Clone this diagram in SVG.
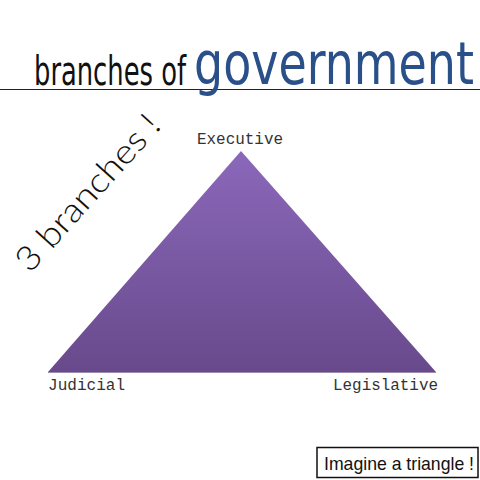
<svg xmlns="http://www.w3.org/2000/svg" width="480" height="480" viewBox="0 0 480 480">
<defs>
<linearGradient id="tri" x1="0" y1="0" x2="0" y2="1">
<stop offset="0" stop-color="#8b68ba"/>
<stop offset="1" stop-color="#684a8c"/>
</linearGradient>
<style>
.mono{font-family:"Liberation Mono","Courier New",monospace;font-size:16px;fill:#333}
</style>
</defs>
<rect width="480" height="480" fill="#fff"/>
<g id="title">
<line x1="0" y1="89.5" x2="480" y2="89.5" stroke="#222" stroke-width="1.2"/>
<text x="34" y="85" font-family="DejaVu Sans Condensed,DejaVu Sans,sans-serif" font-size="40" fill="#111" textLength="152" lengthAdjust="spacingAndGlyphs">branches of</text>
<text x="194" y="84" font-family="DejaVu Sans,Verdana,sans-serif" font-size="58" fill="#2a5089" textLength="280" lengthAdjust="spacingAndGlyphs">government</text>
</g>
<text x="0" y="0" transform="translate(30,274) rotate(-48)" font-family="Lato,Noto Sans,sans-serif" font-weight="300" font-size="34" fill="#111" textLength="198" lengthAdjust="spacingAndGlyphs">3 branches !</text>
<g id="triangle">
<polygon points="241,151 48,372 436,372" fill="url(#tri)"/>
<line x1="48" y1="372.5" x2="436" y2="372.5" stroke="#5a3f7a" stroke-width="1" opacity="0.6"/>
</g>
<g id="executive"><text class="mono" x="197" y="144" textLength="86" lengthAdjust="spacingAndGlyphs">Executive</text></g>
<g id="judicial"><text class="mono" x="48" y="390" textLength="77" lengthAdjust="spacingAndGlyphs">Judicial</text></g>
<g id="legislative"><text class="mono" x="333" y="390" textLength="105" lengthAdjust="spacingAndGlyphs">Legislative</text></g>
<g id="note">
<rect x="317" y="447.5" width="161" height="30" fill="#fff" stroke="#111" stroke-width="1.5"/>
<text x="324" y="470" font-family="Liberation Sans,Arial,sans-serif" font-size="19" fill="#111" textLength="150" lengthAdjust="spacingAndGlyphs">Imagine a triangle !</text>
</g>
</svg>
